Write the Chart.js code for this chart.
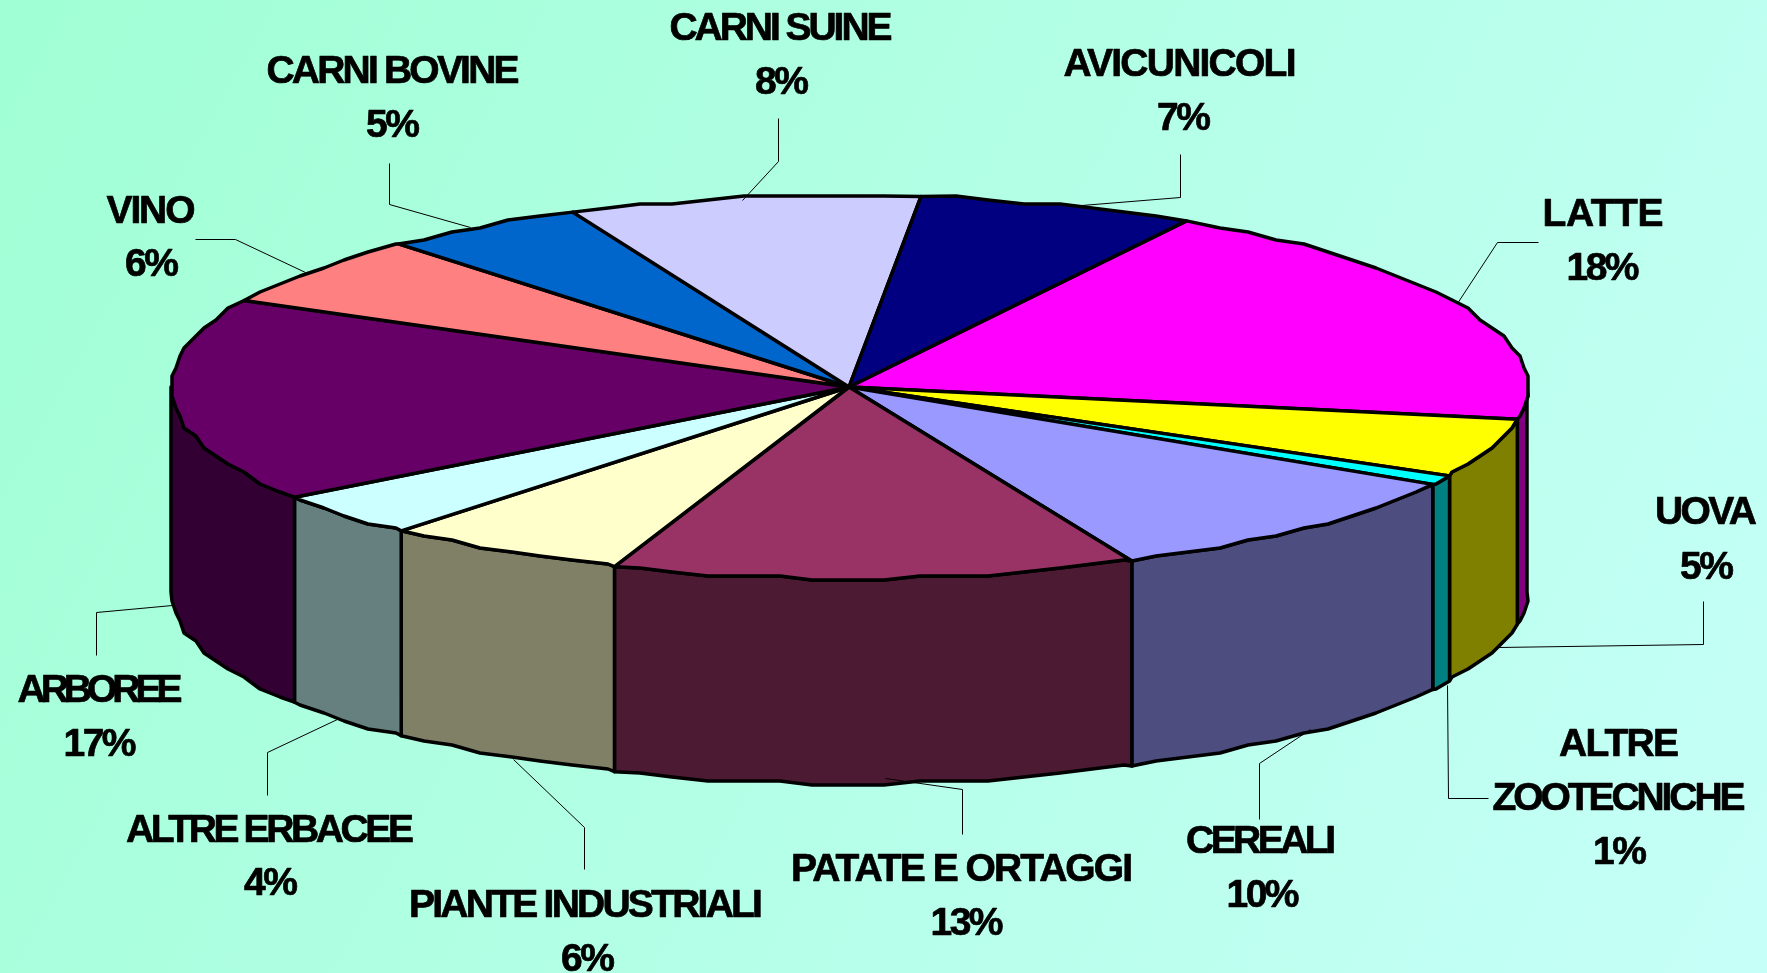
<!DOCTYPE html>
<html><head><meta charset="utf-8">
<style>html,body{margin:0;padding:0;background:#b0ffe6;overflow:hidden}canvas{display:block}</style>
<script src="https://cdn.jsdelivr.net/npm/chart.js@4/dist/chart.umd.js"></script>
</head><body><canvas id="c" width="1767" height="973"></canvas>
<script>
const categories = ["LATTE","UOVA","ALTRE ZOOTECNICHE","CEREALI","PATATE E ORTAGGI","PIANTE INDUSTRIALI","ALTRE ERBACEE","ARBOREE","VINO","CARNI BOVINE","CARNI SUINE","AVICUNICOLI"];
const sliceShares = [19.4,4.99,0.81,9.66,12.47,5.86,3.76,17.22,5.97,4.89,8.37,6.6];
// Percentages as printed on the labels
const printedPercent = [18,5,1,10,13,6,4,17,6,5,8,7];
const topColors = ["#FF00FF","#FFFF00","#00FFFF","#9999FF","#993366","#FFFFCC","#CCFFFF","#660066","#FF8080","#0066CC","#CCCCFF","#000080"];
const wallColors = ["#800080","#808000","#008080","#4D4D80","#4D1A33","#808066","#668080","#330033","#804040","#003366","#666680","#000040"];
const startDeg = 29.85;

// Label layout: name lines with their widths, centre x, baselines, percentage centre x
const labelLayout = [
 {lines:["LATTE"],w:[121],x:1603,y:[226,280],px:1603},
 {lines:["UOVA"],w:[102],x:1706,y:[524,579],px:1707},
 {lines:["ALTRE","ZOOTECNICHE"],w:[120,253],x:1619,y:[756,810,864],px:1620},
 {lines:["CEREALI"],w:[150],x:1261,y:[853,907],px:1263},
 {lines:["PATATE E ORTAGGI"],w:[342],x:962,y:[881,935],px:967},
 {lines:["PIANTE INDUSTRIALI"],w:[354],x:586,y:[917,971],px:588},
 {lines:["ALTRE ERBACEE"],w:[288],x:270,y:[842,895],px:271},
 {lines:["ARBOREE"],w:[165],x:100,y:[702,756],px:100},
 {lines:["VINO"],w:[89],x:151,y:[223,276],px:152},
 {lines:["CARNI BOVINE"],w:[253],x:393,y:[83,137],px:393},
 {lines:["CARNI SUINE"],w:[223],x:781,y:[40,94],px:782},
 {lines:["AVICUNICOLI"],w:[233],x:1180,y:[76,130],px:1184}
];
const leaderLines = [
 [[1538,242],[1497,242],[1457,303]],
 [[1703,601],[1703,644],[1498,647]],
 [[1488,798],[1448,798],[1447,685]],
 [[1259,819],[1259,763],[1310,729]],
 [[962,834],[962,789],[885,778]],
 [[584,869],[584,827],[513,759]],
 [[267,795],[267,752],[339,718]],
 [[96,655],[96,612],[172,605]],
 [[195,239],[235,239],[305,272]],
 [[389,163],[389,204],[470,227]],
 [[778,118],[778,161],[742,200]],
 [[1180,154],[1180,197],[1069,206]]
];

const tilt = {sx:678/387, sy:191.5/387, depth:205/387, line:3.5, grid:4, stepDeg:3};

// The reference's rim is a coarse outline: sample the ellipse on fixed angles and snap to a grid
function rim(el,a,b,dy){
  const r=el.outerRadius,rx=r*tilt.sx,ry=r*tilt.sy,g=tilt.grid,s=tilt.stepDeg*Math.PI/180;
  const at=(t,snap)=>{
    let x=el.x+rx*Math.cos(t),y=el.y+ry*Math.sin(t);
    if(snap){x=Math.round(x/g)*g;y=Math.round(y/g)*g;}
    return [x,y+dy];
  };
  const pts=[at(a,false)];
  const lo=Math.min(a,b),hi=Math.max(a,b),mid=[];
  for(let k=Math.ceil(lo/s);k*s<hi;k++){ if(k*s>lo+0.004&&k*s<hi-0.004) mid.push(at(k*s,true)); }
  if(a>b) mid.reverse();
  return pts.concat(mid,[at(b,false)]);
}

const pie3d = {
  id:'pie3d',
  beforeDraw(chart){
    const {ctx,width,height}=chart;
    const g=ctx.createLinearGradient(0,0,width,height);
    g.addColorStop(0,'#A0FFD4');
    g.addColorStop(1,'#C6FFF8');
    ctx.save();ctx.fillStyle=g;ctx.fillRect(0,0,width,height);ctx.restore();
  },
  beforeDatasetDraw(chart,args){
    const {ctx}=chart;
    const arcs=chart.getDatasetMeta(args.index).data;
    const TAU=Math.PI*2;
    ctx.save();
    ctx.lineJoin='round';ctx.strokeStyle='#000';ctx.lineWidth=tilt.line;
    arcs.forEach((el,i)=>{
      const d=el.outerRadius*tilt.depth;
      [0,TAU,-TAU].forEach(k=>{
        const a=Math.max(el.startAngle+k,0),b=Math.min(el.endAngle+k,Math.PI);
        if(b<=a)return;
        const pts=rim(el,a,b,0).concat(rim(el,b,a,d));
        ctx.beginPath();
        pts.forEach((p,j)=>j?ctx.lineTo(p[0],p[1]):ctx.moveTo(p[0],p[1]));
        ctx.closePath();
        ctx.fillStyle=wallColors[i];ctx.fill();ctx.stroke();
      });
    });
    arcs.forEach(el=>{
      ctx.beginPath();
      ctx.moveTo(el.x,el.y);
      rim(el,el.startAngle,el.endAngle,0).forEach(p=>ctx.lineTo(p[0],p[1]));
      ctx.closePath();
      ctx.fillStyle=el.options.backgroundColor;ctx.fill();ctx.stroke();
    });
    ctx.restore();
    return false;
  },
  afterDatasetsDraw(chart){
    const {ctx}=chart;
    ctx.save();
    ctx.strokeStyle='#000';ctx.lineWidth=1;
    leaderLines.forEach(p=>{
      ctx.beginPath();
      p.forEach((q,i)=>i?ctx.lineTo(q[0]+.5,q[1]+.5):ctx.moveTo(q[0]+.5,q[1]+.5));
      ctx.stroke();
    });
    ctx.fillStyle='#000';ctx.textAlign='center';ctx.textBaseline='alphabetic';
    ctx.lineWidth=0.7;ctx.lineJoin='round';
    ctx.font='bold 39px "Liberation Sans", Arial, sans-serif';
    const put=(t,x,y,target)=>{
      ctx.letterSpacing='0px';
      const nat=ctx.measureText(t).width;
      const sp=target?(target-nat)/(t.length-1):-2.5;
      ctx.letterSpacing=sp.toFixed(2)+'px';
      ctx.fillText(t,x+sp/2,y);ctx.strokeText(t,x+sp/2,y);
    };
    labelLayout.forEach((l,i)=>{
      l.lines.forEach((t,j)=>put(t,l.x,l.y[j],l.w[j]));
      put(printedPercent[i]+'%',l.px,l.y[l.lines.length]);
    });
    ctx.restore();
  }
};

new Chart(document.getElementById('c'),{
  type:'pie',
  data:{labels:categories,datasets:[{data:sliceShares,backgroundColor:topColors,borderWidth:0}]},
  options:{
    responsive:false,animation:false,rotation:startDeg,
    layout:{padding:{left:0,top:0,right:69,bottom:199}},
    events:[],
    plugins:{legend:{display:false},tooltip:{enabled:false}}
  },
  plugins:[pie3d]
});
</script></body></html>
